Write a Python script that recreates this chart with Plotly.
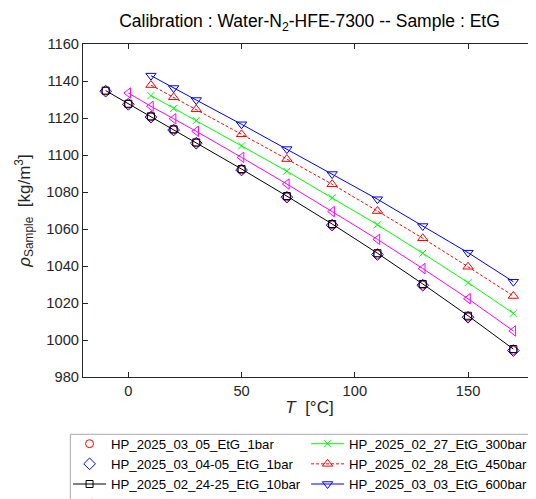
import plotly.graph_objects as go

# ---------------- data ----------------
T_all = [-10, 0, 10, 20, 30, 50, 70, 90, 110, 130, 150, 170]
T_150 = [0, 10, 20, 30, 50, 70, 90, 110, 130, 150, 170]
T_hi = [10, 20, 30, 50, 70, 90, 110, 130, 150, 170]

rho_1bar_a = [1134.6, 1127.5, 1120.6, 1113.6, 1106.5, 1092.0, 1077.3, 1062.2, 1046.3, 1029.7, 1012.4, 994.4]
rho_1bar_b = [1134.5, 1127.4, 1120.5, 1113.5, 1106.4, 1091.9, 1077.2, 1062.1, 1046.2, 1029.6, 1012.3, 994.3]
rho_10bar = [1134.8, 1127.7, 1120.9, 1113.9, 1106.8, 1092.4, 1077.8, 1062.7, 1046.9, 1030.3, 1013.1, 995.1]
rho_150bar = [1133.5, 1126.3, 1119.6, 1112.8, 1098.7, 1084.3, 1069.4, 1054.4, 1038.6, 1022.3, 1004.9]
rho_300bar = [1132.1, 1125.2, 1118.6, 1104.9, 1091.2, 1076.9, 1062.3, 1046.9, 1031.0, 1014.4]
rho_450bar = [1137.8, 1131.2, 1124.7, 1111.2, 1097.8, 1084.2, 1069.7, 1055.0, 1039.6, 1023.8]
rho_600bar = [1142.9, 1136.2, 1129.7, 1116.6, 1103.2, 1089.7, 1076.1, 1061.6, 1047.2, 1031.5]

names = ["HP_2025_03_05_EtG_1bar", "HP_2025_03_04-05_EtG_1bar", "HP_2025_02_24-25_EtG_10bar",
         "HP_2025_02_26_EtG_150bar", "HP_2025_02_27_EtG_300bar", "HP_2025_02_28_EtG_450bar",
         "HP_2025_03_03_EtG_600bar"]

x_ticks = [0, 50, 100, 150]
y_ticks = [980, 1000, 1020, 1040, 1060, 1080, 1100, 1120, 1140, 1160]

# legend rank to get column-major order in a 2-column horizontal legend
ranks = [1, 3, 5, 7, 2, 4, 6]

fig = go.Figure()

def add(x, y, name, rank, color, symbol, mode, dash="solid", size=8):
    fig.add_trace(go.Scatter(
        x=x, y=y, name=name, mode=mode, legendrank=rank,
        line=dict(color=color, width=1, dash=dash),
        marker=dict(symbol=symbol, size=size, color=color, line=dict(color=color, width=1)),
    ))

add(T_all, rho_1bar_a, names[0], ranks[0], "#FF0000", "circle-open", "markers")
add(T_all, rho_1bar_b, names[1], ranks[1], "#0000FF", "diamond-open", "markers", size=9)
add(T_all, rho_10bar, names[2], ranks[2], "#000000", "square-open", "lines+markers", size=7)
add(T_150, rho_150bar, names[3], ranks[3], "#FF00FF", "triangle-left-open", "lines+markers", size=9)
add(T_hi, rho_300bar, names[4], ranks[4], "#00FF00", "x-thin-open", "lines+markers", size=7)
add(T_hi, rho_450bar, names[5], ranks[5], "#FF0000", "triangle-up-open", "lines+markers", dash="3px,2px", size=9)
add(T_hi, rho_600bar, names[6], ranks[6], "#0000FF", "triangle-down-open", "lines+markers", size=9)

axis_common = dict(
    showline=True, linecolor="#262626", linewidth=1, mirror="ticks",
    ticks="inside", ticklen=5, tickcolor="#262626", showgrid=False, zeroline=False,
    tickfont=dict(family="Liberation Sans, Arial", size=14.7, color="#262626"),
)

fig.update_layout(
    width=528, height=491,
    paper_bgcolor="white", plot_bgcolor="white",
    margin=dict(l=75, r=0, t=36, b=122, autoexpand=False),
    font=dict(family="Liberation Sans, Arial", color="#262626"),
    title=dict(text="Calibration : Water-N<sub>2</sub>-HFE-7300 -- Sample : EtG",
               xref="paper", x=0.5, xanchor="center", y=0.974, yanchor="middle",
               font=dict(size=17.5, color="black")),
    xaxis=dict(range=[-20, 180], tickvals=x_ticks, ticktext=[str(v) for v in x_ticks],
               title=dict(text="<i>T</i>  [°C]", font=dict(size=17, color="#262626"), standoff=3),
               **axis_common),
    yaxis=dict(range=[980, 1160], tickvals=y_ticks, ticktext=[str(v) for v in y_ticks],
               title=dict(text="<i>ρ</i><sub>Sample</sub>  [kg/m<sup>3</sup>]", font=dict(size=17, color="#262626"), standoff=11),
               **axis_common),
    legend=dict(orientation="h", x=-0.033, xanchor="left", y=-0.155, yanchor="top",
                borderwidth=0, bgcolor="rgba(0,0,0,0)",
                entrywidth=190, entrywidthmode="pixels", itemwidth=33,
                font=dict(family="Liberation Sans, Arial", size=13.2, color="black"),
                tracegroupgap=0),
    shapes=[dict(type="rect", xref="paper", yref="paper", x0=-0.028, x1=0.998, y0=-0.172, y1=-0.6,
                 line=dict(color="#AAAAAA", width=1), fillcolor="rgba(0,0,0,0)", layer="above")],
    showlegend=True,
)

fig.write_html("out.html")
